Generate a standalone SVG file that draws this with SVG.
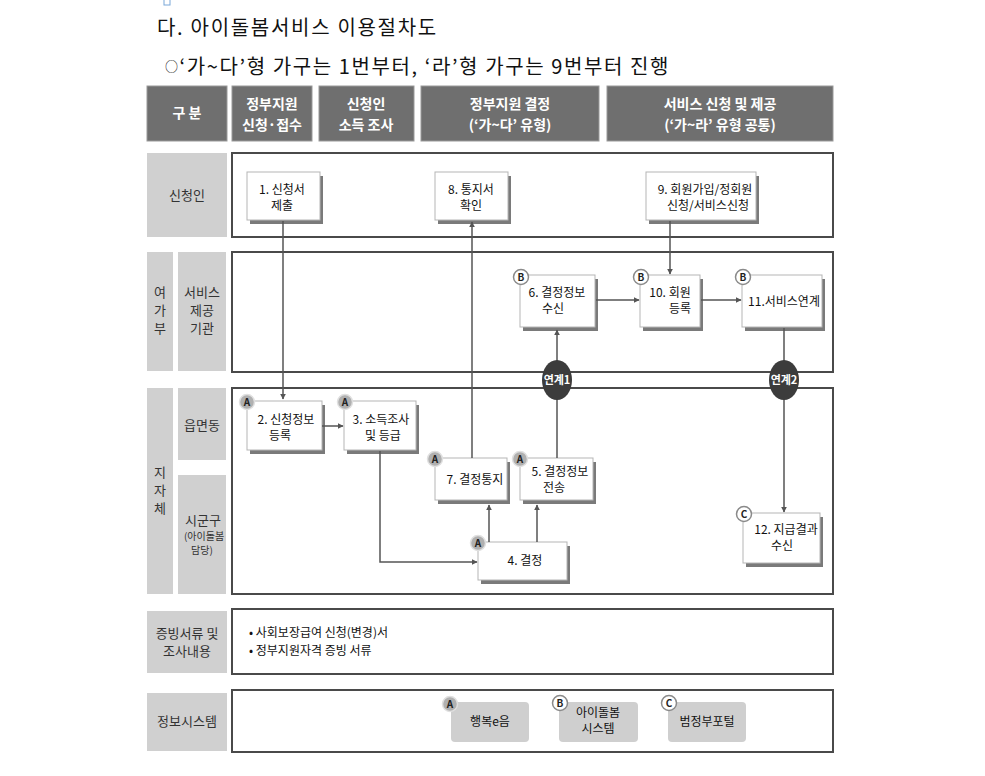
<svg xmlns="http://www.w3.org/2000/svg" width="985" height="776" viewBox="0 0 985 776">
<defs>
<style>
text{font-family:"Noto Sans CJK KR","Noto Sans",sans-serif;fill:#111;}
.hd rect{fill:#6f6f6f;stroke:#9a9a9a;stroke-width:1;}
.hd text{fill:#fff;font-weight:bold;font-size:14px;text-anchor:middle;}
.lbl{fill:#d0d0d0;}
.lt{font-size:13px;fill:#333;text-anchor:middle;}
.lane{fill:#fff;stroke:#4a4a4a;stroke-width:2;}
.sh{fill:#7a7a7a;}
.nb{fill:#fff;stroke:#b5b5b5;stroke-width:1;}
.nt{font-size:12px;text-anchor:middle;}
.sys{fill:#cfcfcf;}
.ba{fill:#b0b0b0;stroke:#e0e0e0;stroke-width:1.5;}
.bb{fill:#fff;stroke:#8a8a8a;stroke-width:1.5;}
.bt{font-size:10px;font-weight:bold;text-anchor:middle;fill:#222;}
.cn{fill:none;stroke:#555;stroke-width:1.5;}
.lk{fill:#3c3c3c;}
.lkt{fill:#fff;font-size:11px;font-weight:bold;text-anchor:middle;}
</style>
<marker id="ar" viewBox="0 0 10 10" refX="9" refY="5" markerWidth="6" markerHeight="6" orient="auto" markerUnits="userSpaceOnUse">
<path d="M0,0 L10,5 L0,10 z" fill="#555"/>
</marker>
</defs>
<rect width="985" height="776" fill="#fff"/>
<rect x="164" y="-2" width="6" height="7" fill="none" stroke="#7aa7d8" stroke-width="1"/>

<g id="title">
<text x="157" y="35" font-size="20" style="letter-spacing:1.7px">다. 아이돌봄서비스 이용절차도</text>
<text x="165" y="74" font-size="20" style="letter-spacing:1.6px"><tspan font-size="13" dy="-3">○</tspan><tspan dy="3">‘가~다’형 가구는 1번부터, ‘라’형 가구는 9번부터 진행</tspan></text>
</g>

<g id="header" class="hd">
<g id="h-gubun"><rect x="147" y="86" width="80" height="55"/><text x="187" y="118">구 분</text></g>
<g id="h-apply"><rect x="232" y="86" width="80" height="55"/><text x="272" y="109">정부지원</text><text x="272" y="130">신청·접수</text></g>
<g id="h-income"><rect x="319" y="86" width="95" height="55"/><text x="366" y="109">신청인</text><text x="366" y="130">소득 조사</text></g>
<g id="h-decide"><rect x="421" y="86" width="178" height="55"/><text x="510" y="109">정부지원 결정</text><text x="510" y="130">(‘가~다’ 유형)</text></g>
<g id="h-service"><rect x="607" y="86" width="226" height="55"/><text x="720" y="109">서비스 신청 및 제공</text><text x="720" y="130">(‘가~라’ 유형 공통)</text></g>
</g>

<g id="lane-applicant">
<rect class="lbl" x="147" y="153" width="80" height="84"/>
<text class="lt" x="187" y="200">신청인</text>
<rect class="lane" x="232" y="153" width="601" height="84"/>
</g>
<g id="lane-mogef">
<rect class="lbl" x="147" y="252" width="26" height="119"/>
<text class="lt" font-size="12"><tspan x="160" y="297">여</tspan><tspan x="160" y="315">가</tspan><tspan x="160" y="333">부</tspan></text>
<rect class="lbl" x="178" y="252" width="48" height="119"/>
<text class="lt" font-size="12"><tspan x="202" y="297">서비스</tspan><tspan x="202" y="315">제공</tspan><tspan x="202" y="333">기관</tspan></text>
<rect class="lane" x="232" y="252" width="601" height="120"/>
</g>
<g id="lane-local">
<rect class="lbl" x="147" y="388" width="26" height="206"/>
<text class="lt" font-size="12"><tspan x="160" y="477">지</tspan><tspan x="160" y="495">자</tspan><tspan x="160" y="513">체</tspan></text>
<rect class="lbl" x="178" y="388" width="48" height="72"/>
<text class="lt" x="202" y="430">읍면동</text>
<rect class="lbl" x="178" y="475" width="48" height="119"/>
<text class="lt" font-size="13"><tspan x="203" y="525">시군구</tspan><tspan x="204" y="540" font-size="10">(아이돌봄</tspan><tspan x="202" y="554" font-size="10">담당)</tspan></text>
<rect class="lane" x="232" y="388" width="601" height="206"/>
</g>
<g id="lane-docs">
<rect class="lbl" x="147" y="611" width="80" height="62"/>
<text class="lt" x="187" y="638">증빙서류 및</text><text class="lt" x="187" y="656">조사내용</text>
<rect class="lane" x="232" y="609" width="601" height="65"/>
<text x="249" y="637" font-size="12">• 사회보장급여 신청(변경)서</text>
<text x="249" y="655" font-size="12">• 정부지원자격 증빙 서류</text>
</g>
<g id="lane-system">
<rect class="lbl" x="147" y="693" width="80" height="58"/>
<text class="lt" x="187" y="726">정보시스템</text>
<rect class="lane" x="232" y="690" width="601" height="62"/>
</g>

<g id="node-1"><rect class="sh" x="250" y="176" width="73" height="48"/><rect class="nb" x="247" y="172" width="73" height="48"/>
<text class="nt" x="282" y="194">1. 신청서</text><text class="nt" x="282" y="210">제출</text></g>
<g id="node-8"><rect class="sh" x="438" y="176" width="73" height="48"/><rect class="nb" x="435" y="172" width="73" height="48"/>
<text class="nt" x="471" y="194">8. 통지서</text><text class="nt" x="471" y="210">확인</text></g>
<g id="node-9"><rect class="sh" x="649" y="176" width="110" height="48"/><rect class="nb" x="646" y="172" width="110" height="48"/>
<text class="nt" x="705" y="194">9. 회원가입/정회원</text><text class="nt" x="708" y="210">신청/서비스신청</text></g>

<g id="node-6"><rect class="sh" x="523" y="279" width="75" height="52"/><rect class="nb" x="520" y="275" width="75" height="52"/>
<text class="nt" x="557" y="297">6. 결정정보</text><text class="nt" x="553" y="313">수신</text>
<circle class="bb" cx="521" cy="277" r="7.5"/><text class="bt" x="521" y="281">B</text></g>
<g id="node-10"><rect class="sh" x="643" y="279" width="60" height="52"/><rect class="nb" x="640" y="275" width="60" height="52"/>
<text class="nt" x="670" y="297">10. 회원</text><text class="nt" x="680" y="313">등록</text>
<circle class="bb" cx="641" cy="277" r="7.5"/><text class="bt" x="641" y="281">B</text></g>
<g id="node-11"><rect class="sh" x="745" y="279" width="80" height="52"/><rect class="nb" x="742" y="275" width="80" height="52"/>
<text class="nt" x="784" y="306">11.서비스연계</text>
<circle class="bb" cx="743" cy="277" r="7.5"/><text class="bt" x="743" y="281">B</text></g>

<g id="node-2"><rect class="sh" x="250" y="405" width="75" height="49"/><rect class="nb" x="247" y="401" width="75" height="49"/>
<text class="nt" x="286" y="424">2. 신청정보</text><text class="nt" x="280" y="440">등록</text>
<circle class="ba" cx="247" cy="402" r="7.5"/><text class="bt" x="247" y="406">A</text></g>
<g id="node-3"><rect class="sh" x="347" y="405" width="72" height="49"/><rect class="nb" x="344" y="401" width="72" height="49"/>
<text class="nt" x="381" y="424">3. 소득조사</text><text class="nt" x="383" y="440">및 등급</text>
<circle class="ba" cx="345" cy="402" r="7.5"/><text class="bt" x="345" y="406">A</text></g>
<g id="node-7"><rect class="sh" x="438" y="462" width="72" height="42"/><rect class="nb" x="435" y="458" width="72" height="42"/>
<text class="nt" x="475" y="484">7. 결정통지</text>
<circle class="ba" cx="435" cy="459" r="7.5"/><text class="bt" x="435" y="463">A</text></g>
<g id="node-5"><rect class="sh" x="523" y="462" width="73" height="42"/><rect class="nb" x="520" y="458" width="73" height="42"/>
<text class="nt" x="560" y="476">5. 결정정보</text><text class="nt" x="554" y="492">전송</text>
<circle class="ba" cx="520" cy="459" r="7.5"/><text class="bt" x="520" y="463">A</text></g>
<g id="node-4"><rect class="sh" x="481" y="546" width="89" height="38"/><rect class="nb" x="478" y="542" width="89" height="38"/>
<text class="nt" x="525" y="565">4. 결정</text>
<circle class="ba" cx="478" cy="543" r="7.5"/><text class="bt" x="478" y="547">A</text></g>
<g id="node-12"><rect class="sh" x="746" y="517" width="77" height="50"/><rect class="nb" x="743" y="513" width="77" height="50"/>
<text class="nt" x="786" y="534">12. 지급결과</text><text class="nt" x="782" y="550">수신</text>
<circle class="bb" cx="744" cy="514" r="7.5"/><text class="bt" x="744" y="518">C</text></g>

<g id="sys-a"><rect class="sys" x="451" y="702" width="78" height="40" rx="4"/><text class="nt" x="490" y="726">행복e음</text>
<circle class="ba" cx="450" cy="704" r="7.5"/><text class="bt" x="450" y="708">A</text></g>
<g id="sys-b"><rect class="sys" x="559" y="702" width="79" height="40" rx="4"/><text class="nt" x="598" y="717">아이돌봄</text><text class="nt" x="598" y="733">시스템</text>
<circle class="bb" cx="560" cy="703" r="7.5"/><text class="bt" x="560" y="707">B</text></g>
<g id="sys-c"><rect class="sys" x="668" y="702" width="78" height="40" rx="4"/><text class="nt" x="707" y="726">범정부포털</text>
<circle class="bb" cx="669" cy="703" r="7.5"/><text class="bt" x="669" y="707">C</text></g>

<g id="connectors">
<path class="cn" d="M283,221 V399" marker-end="url(#ar)"/>
<path class="cn" d="M322,426 H343" marker-end="url(#ar)"/>
<path class="cn" d="M380,451 V562 H477" marker-end="url(#ar)"/>
<path class="cn" d="M489,542 V505" marker-end="url(#ar)"/>
<path class="cn" d="M537,542 V505" marker-end="url(#ar)"/>
<path class="cn" d="M472,458 V222" marker-end="url(#ar)"/>
<path class="cn" d="M557,458 V330" marker-end="url(#ar)"/>
<path class="cn" d="M596,300 H639" marker-end="url(#ar)"/>
<path class="cn" d="M670,221 V274" marker-end="url(#ar)"/>
<path class="cn" d="M701,300 H741" marker-end="url(#ar)"/>
<path class="cn" d="M784,328 V512" marker-end="url(#ar)"/>
</g>
<g id="link-1"><ellipse class="lk" cx="557" cy="380" rx="15" ry="20"/><text class="lkt" x="557" y="384">연계1</text></g>
<g id="link-2"><ellipse class="lk" cx="784" cy="380" rx="15" ry="20"/><text class="lkt" x="784" y="384">연계2</text></g>
</svg>
